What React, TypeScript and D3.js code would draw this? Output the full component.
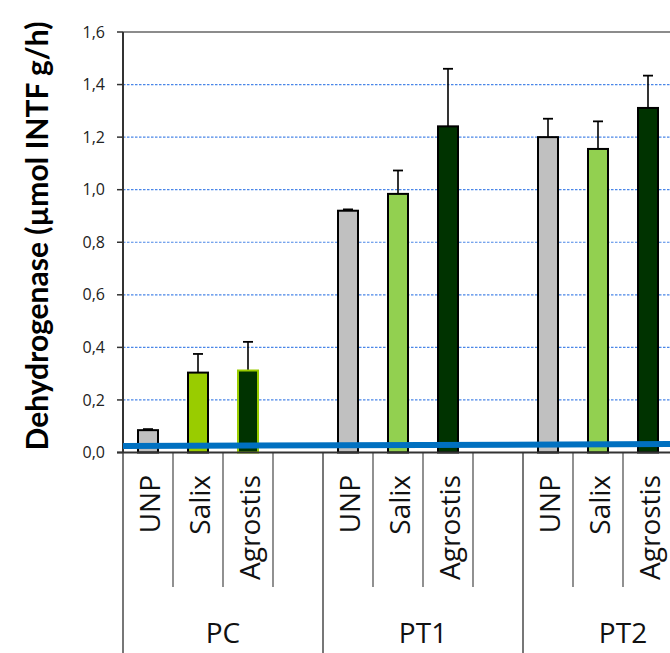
import React from "react";
import * as d3 from "d3";

const groups = ["PC", "PT1", "PT2"];
const treatments = ["UNP", "Salix", "Agrostis"];
const unpValues = [0.085, 0.92, 1.2];
const salixValues = [0.304, 0.984, 1.155];
const agrostisValues = [0.312, 1.241, 1.311];
const unpErr = [0.004, 0.005, 0.07];
const salixErr = [0.071, 0.089, 0.105];
const agrostisErr = [0.109, 0.219, 0.123];
const yTicks = [0, 0.2, 0.4, 0.6, 0.8, 1.0, 1.2, 1.4, 1.6];
const limitLine = [0.025, 0.032];
const yTitle = "Dehydrogenase (µmol INTF g/h)";

const W = 670;
const H = 653;
const left = 123;
const top = 32;
const zeroY = 452.5;
const slotW = 50;

const seriesValues = [unpValues, salixValues, agrostisValues];
const seriesErr = [unpErr, salixErr, agrostisErr];
const fills = [
  ["#C0C0C0", "#99CC00", "#003300"],
  ["#C0C0C0", "#92D050", "#003300"],
  ["#C0C0C0", "#92D050", "#003300"],
];
const strokes = [
  ["#000", "#000", "#99CC00"],
  ["#000", "#000", "#000"],
  ["#000", "#000", "#000"],
];

export default function App() {
  const slots: string[] = [];
  groups.forEach((g) => {
    treatments.forEach((t) => slots.push(g + "|" + t));
    slots.push(g + "|blank");
  });
  const x = d3
    .scaleBand<string>()
    .domain(slots)
    .range([left, left + slots.length * slotW])
    .padding(0);
  const y = d3.scaleLinear().domain([0, 1.6]).range([zeroY, top]);
  const fmt = (v: number) => d3.format(".1f")(v).replace(".", ",");
  const bw = x.bandwidth() * 0.4;
  const lx = d3.scaleLinear().domain([0, 1]).range([left, W]);
  const line = d3
    .line<number>()
    .x((_, i) => lx(i))
    .y((d) => y(d));

  return (
    <svg
      width={W}
      height={H}
      style={{ position: "absolute", left: 0, top: 0, background: "#fff" }}
      fontFamily="'Open Sans', sans-serif"
    >
      {/* gridlines */}
      {yTicks
        .filter((t) => t > 0 && t < 1.6)
        .map((t) => (
          <line
            key={"g" + t}
            x1={left}
            x2={W}
            y1={y(t)}
            y2={y(t)}
            stroke="#4A86E8"
            strokeWidth={1.2}
            strokeDasharray="2.5,1.5"
          />
        ))}
      <line x1={left} x2={W} y1={y(1.6)} y2={y(1.6)} stroke="#8C8C8C" strokeWidth={2} />

      {/* bars */}
      {groups.map((g, gi) =>
        treatments.map((t, ti) => {
          const v = seriesValues[ti][gi];
          const e = seriesErr[ti][gi];
          const cx = (x(g + "|" + t) as number) + x.bandwidth() / 2;
          return (
            <g key={g + t}>
              <line x1={cx} x2={cx} y1={y(v)} y2={y(v + e)} stroke="#000" strokeWidth={1.6} />
              <line x1={cx - 5} x2={cx + 5} y1={y(v + e)} y2={y(v + e)} stroke="#000" strokeWidth={1.8} />
              <rect
                x={cx - bw / 2}
                y={y(v)}
                width={bw}
                height={y(0) - y(v)}
                fill={fills[gi][ti]}
                stroke={strokes[gi][ti]}
                strokeWidth={2}
              />
            </g>
          );
        })
      )}

      {/* y axis */}
      <line x1={left} x2={left} y1={top} y2={zeroY} stroke="#333" strokeWidth={2} />
      {yTicks.map((t) => (
        <g key={"t" + t}>
          <line x1={left - 6} x2={left} y1={y(t)} y2={y(t)} stroke="#333" strokeWidth={1.5} />
          <text x={left - 18} y={y(t)} dy="0.35em" textAnchor="end" fontSize={16} fill="#222">
            {fmt(t)}
          </text>
        </g>
      ))}
      <text
        transform={`translate(48,236) rotate(-90)`}
        textAnchor="middle"
        fontSize={30}
        fontWeight="bold"
        fontFamily="Lato, sans-serif"
        fill="#000"
      >
        {yTitle}
      </text>

      {/* category dividers */}
      {slots.map((s, i) => {
        const xs = x(s) as number;
        const isGroup = i % 4 === 0;
        return (
          <line
            key={"d" + s}
            x1={xs}
            x2={xs}
            y1={zeroY}
            y2={isGroup ? H : 587}
            stroke="#555"
            strokeWidth={isGroup ? 1.6 : 1.3}
          />
        );
      })}

      {/* x labels */}
      {groups.map((g) =>
        treatments.map((t) => {
          const cx = (x(g + "|" + t) as number) + x.bandwidth() / 2;
          return (
            <text
              key={"l" + g + t}
              transform={`translate(${cx + 2},475) rotate(-90)`}
              dy="0.35em"
              textAnchor="end"
              fontSize={28}
              fill="#111"
            >
              {t}
            </text>
          );
        })
      )}
      {groups.map((g) => {
        const x0 = x(g + "|UNP") as number;
        return (
          <text key={"gl" + g} x={x0 + 2 * slotW} y={643} textAnchor="middle" fontSize={28} fill="#111">
            {g}
          </text>
        );
      })}

      {/* limit line */}
      <path d={line(limitLine) as string} fill="none" stroke="#0070C0" strokeWidth={6} />

      {/* x axis */}
      <line x1={left - 6} x2={W} y1={zeroY} y2={zeroY} stroke="#333" strokeWidth={2} />
    </svg>
  );
}
